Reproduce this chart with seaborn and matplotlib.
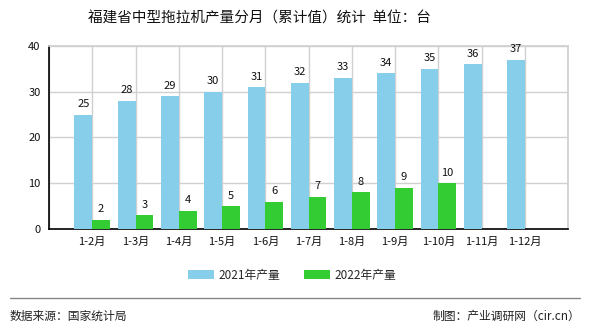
import matplotlib
matplotlib.use("Agg")
import matplotlib.pyplot as plt
import seaborn as sns
import pandas as pd
import numpy as np
from matplotlib.patches import Patch

months = ["1-2月", "1-3月", "1-4月", "1-5月", "1-6月", "1-7月", "1-8月", "1-9月", "1-10月", "1-11月", "1-12月"]
y2021 = [25, 28, 29, 30, 31, 32, 33, 34, 35, 36, 37]
y2022 = [2, 3, 4, 5, 6, 7, 8, 9, 10, np.nan, np.nan]
series = ["2021年产量", "2022年产量"]
colors = ["#87CEEB", "#33CC33"]

sns.set_theme(style="white")
plt.rcParams['font.family'] = ['Noto Sans CJK SC', 'DejaVu Sans']

df = pd.DataFrame({
    "月份": months * 2,
    "产量": y2021 + y2022,
    "系列": [series[0]] * len(months) + [series[1]] * len(months),
})

fig = plt.figure(figsize=(5.9, 3.3), dpi=100)
ax = fig.add_axes([0.083, 0.306, 0.88, 0.555])
sns.barplot(data=df, x="月份", y="产量", hue="系列", palette=colors,
            width=0.82, saturation=1, ax=ax, legend=False, zorder=3,
            linewidth=0, edgecolor="none")

for cont in ax.containers:
    labels = ["" if np.isnan(v) else f"{int(v)}" for v in cont.datavalues]
    ax.bar_label(cont, labels=labels, padding=4, fontsize=8, color="#111111")

ax.set_xlim(-1, 11)
ax.set_ylim(0, 40)
ax.set_xticks(range(-1, 12))
ax.set_xticklabels([""] + months + [""], fontsize=8, color="#111111")
ax.set_yticks([0, 10, 20, 30, 40])
ax.set_yticklabels(["0", "10", "20", "30", "40"], fontsize=8, color="#111111")
ax.tick_params(axis="both", direction="out", length=4, width=1, color="black", pad=2)
ax.set_xlabel("")
ax.set_ylabel("")
ax.grid(True, color="#d0d0d0", linewidth=1, zorder=0)
ax.set_axisbelow(True)
for s in ["top", "right"]:
    ax.spines[s].set_color("#d0d0d0")
for s in ["left", "bottom"]:
    ax.spines[s].set_color("black")
    ax.spines[s].set_linewidth(1.2)

handles = [Patch(facecolor=c, edgecolor="none") for c in colors]
fig.legend(handles, series, loc="center", bbox_to_anchor=(0.495, 0.165), ncol=2,
           frameon=False, fontsize=8.5, handlelength=2.2, handleheight=0.8,
           columnspacing=2.0, handletextpad=0.4)

fig.text(0.44, 0.945, "福建省中型拖拉机产量分月（累计值）统计  单位：台", ha="center", va="center",
         fontsize=10.5, color="#111111")
fig.add_artist(plt.Line2D([0.017, 0.983], [0.097, 0.097], color="#888888", linewidth=1))
fig.text(0.017, 0.042, "数据来源：国家统计局", ha="left", va="center", fontsize=8.5, color="#222222")
fig.text(0.983, 0.042, "制图：产业调研网（cir.cn）", ha="right", va="center", fontsize=8.5, color="#222222")

fig.savefig("out.png", dpi=100)
